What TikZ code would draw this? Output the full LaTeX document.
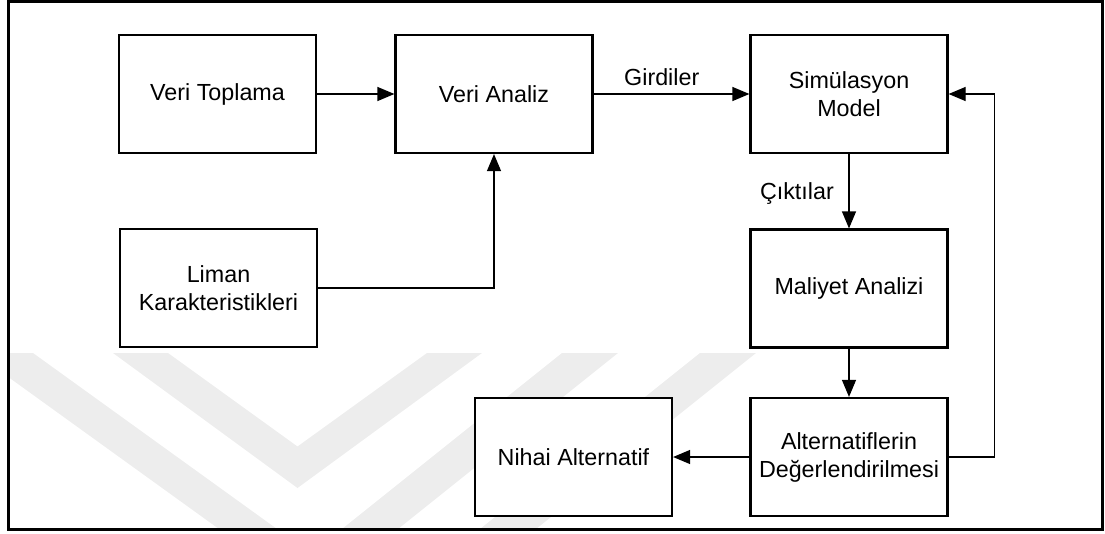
\documentclass[tikz,border=0pt]{standalone}
\usepackage{fontspec}
\setmainfont{Liberation Sans}
\usetikzlibrary{arrows.meta}

\tikzset{
  stepbox/.style={draw=black, line width=2.2pt, fill=white, rectangle,
    minimum width=197pt, minimum height=118pt, inner sep=2pt,
    align=center, font=\fontsize{23.3}{28}\selectfont},
  conn/.style={draw=black, line width=1.2pt,
    -{Triangle[length=17pt,width=14pt]}},
  lbl/.style={inner sep=0pt, font=\fontsize{23.3}{28}\selectfont},
  band/.style={fill=black!7, draw=none}
}

\begin{document}
\begin{tikzpicture}[x=1pt, y=-1pt]
  \useasboundingbox (0,0) rectangle (1105,533);

  % faint background emblem
  \begin{scope}
    \clip (8,1) rectangle (1102,529);
    \fill[band] (-25,353) -- (33,353) -- (277,529) -- (219,529) -- cycle;
    \fill[band] (113,353) -- (168,353) -- (297.5,446.5) -- (427,353)
                -- (482,353) -- (297.5,488) -- cycle;
    \fill[band] (562,353) -- (618,353) -- (398,529) -- (342,529) -- cycle;
    \fill[band] (700,353) -- (756,353) -- (536,529) -- (480,529) -- cycle;
  \end{scope}

  % outer frame
  \draw[line width=3pt] (8,1) rectangle (1102,529);

  % process boxes
  \node[stepbox] (vt) at (217.5,94)  {Veri Toplama};
  \node[stepbox] (va) at (494,94)    {Veri Analiz};
  \node[stepbox] (sm) at (849,94)    {Simülasyon\\Model};
  \node[stepbox] (lk) at (218.5,288) {Liman\\Karakteristikleri};
  \node[stepbox] (ma) at (849,288.5) {Maliyet Analizi};
  \node[stepbox] (na) at (573.5,457) {Nihai Alternatif};
  \node[stepbox] (ad) at (849,457)   {Alternatiflerin\\Değerlendirilmesi};

  % flow
  \draw[conn] (vt.east) -- (va.west);
  \draw[conn] (lk.east) -| (va.south);
  \draw[conn] (va.east) -- (sm.west);
  \draw[conn] (sm.south) -- (ma.north);
  \draw[conn] (ma.south) -- (ad.north);
  \draw[conn] (ad.west) -- (na.east);
  \draw[conn] (ad.east) -- ++(46,0) |- (sm.east);

  % flow labels
  \node[lbl, anchor=base west] (gl) at (624,85)  {Girdiler};
  \node[lbl, anchor=base east] (cl) at (834,199) {Çıktılar};
\end{tikzpicture}
\end{document}
